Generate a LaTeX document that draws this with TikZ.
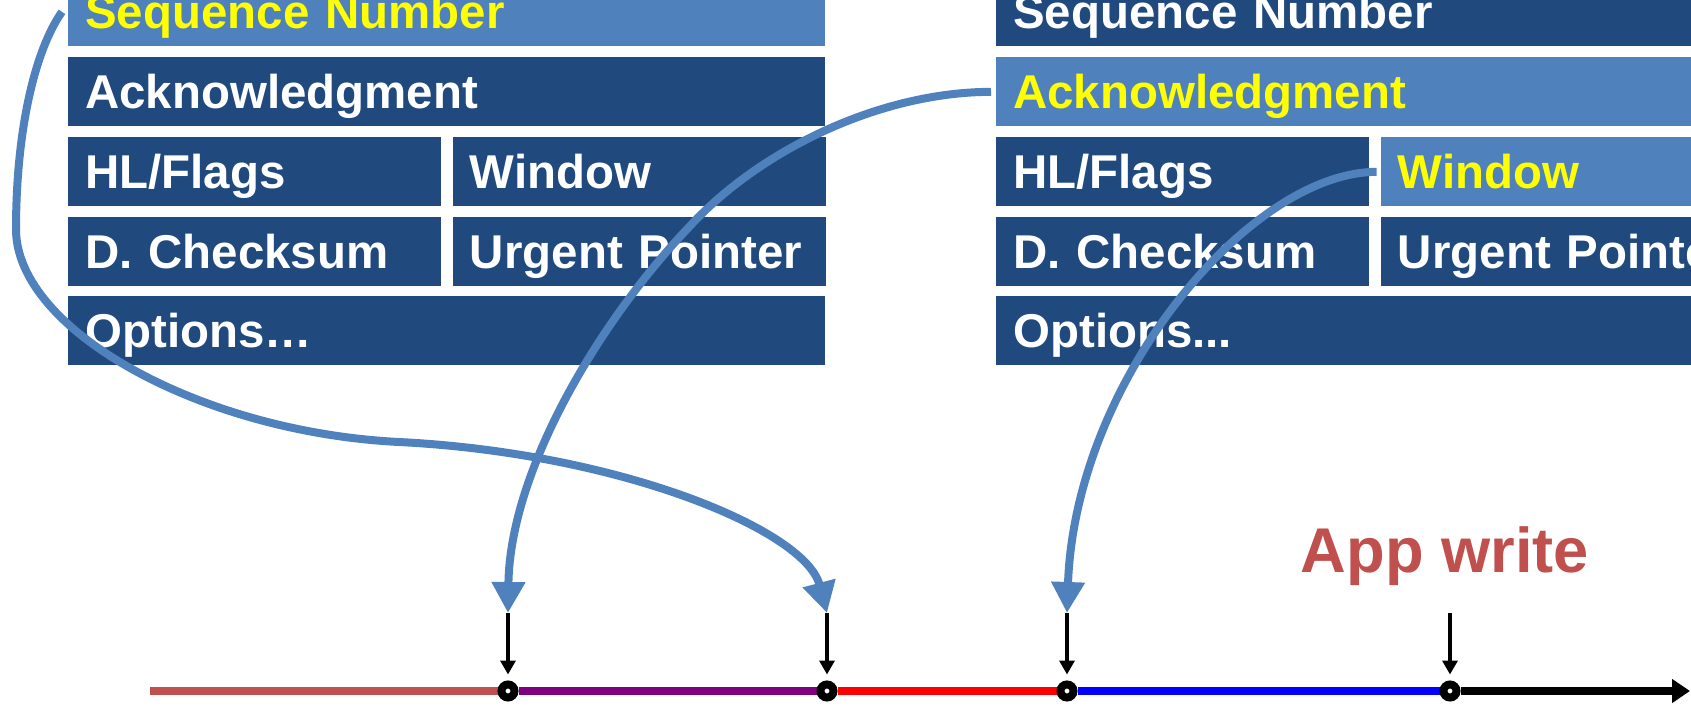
\documentclass[tikz,border=0pt]{standalone}
\usepackage{fontspec}
\setmainfont{Liberation Sans}
\usetikzlibrary{arrows.meta,positioning,backgrounds}
\definecolor{fielddark}{RGB}{32,73,125}
\definecolor{fieldlight}{RGB}{79,129,189}
\definecolor{hilite}{RGB}{255,255,0}
\definecolor{appred}{RGB}{192,80,77}
\definecolor{segpurple}{RGB}{128,0,128}

\begin{document}
\begin{tikzpicture}[x=0.02cm,y=-0.02cm,
  field/.style={rectangle,fill=fielddark,text=white,anchor=north west,inner xsep=0.34cm,inner ysep=0pt,
    minimum height=1.38cm,text height=0.68cm,text depth=0pt,align=left,
    font=\fontsize{27}{32}\selectfont\bfseries},
  wide/.style={field,text width=14.46cm},
  half/.style={field,text width=6.78cm},
  marked/.style={fill=fieldlight,text=hilite},
  jump/.style={draw=fieldlight,line width=0.16cm,-{Triangle[length=0.62cm,width=0.64cm]}},
  tick/.style={draw=black,line width=0.07cm,-{Triangle[length=0.28cm,width=0.3cm]},shorten >=0.12cm},
  dot/.style={circle,draw=black,fill=white,line width=0.16cm,inner sep=0pt,minimum size=0.26cm},
  axis/.style={line width=0.17cm}]
\useasboundingbox (0,0) rectangle (1691,707);
% sender side header
\begin{scope}
  \node[wide,marked] (lseq) at (68,-23) {Sequence Number};
  \node[wide] (lack) at (68,57) {Acknowledgment};
  \node[half] (lhl) at (68,137) {HL/Flags};
  \node[half,anchor=west] (lwin) [right=0.22cm of lhl] {Window};
  \node[half] (lchk) at (68,217) {D. Checksum};
  \node[half,anchor=west] (lurg) [right=0.22cm of lchk] {Urgent Pointer};
  \node[wide] (lopt) at (68,296) {Options…};
\end{scope}
% receiver side header
\begin{scope}[shift={(928,0)}]
  \node[wide] (rseq) at (68,-23) {Sequence Number};
  \node[wide,marked] (rack) at (68,57) {Acknowledgment};
  \node[half] (rhl) at (68,137) {HL/Flags};
  \node[half,marked,anchor=west] (rwin) [right=0.22cm of rhl] {Window};
  \node[half] (rchk) at (68,217) {D. Checksum};
  \node[half,anchor=west] (rurg) [right=0.22cm of rchk] {Urgent Pointer};
  \node[wide] (ropt) at (68,296) {Options...};
\end{scope}
% time line
\coordinate (t0) at (150,691);
\coordinate (tend) at (1690,691);
\foreach \i/\x in {1/508,2/827,3/1067,4/1450}{
  \node[dot] (d\i) at (\x,691) {};
  \coordinate (up\i) at (\x,613);
  \draw[tick] (up\i) -- (d\i);}
\begin{scope}[on background layer]
  \foreach \a/\b/\c in {t0/d1/appred,d1/d2/segpurple,d2/d3/red,d3/d4/blue}{
    \draw[axis,\c] (\a) -- (\b);}
  \draw[axis,-{Triangle[length=0.36cm,width=0.46cm]}] (d4) -- (tend);
\end{scope}
\node[anchor=base,text=appred,font=\fontsize{36}{40}\selectfont\bfseries] (write) at (1445,572) {App write};
% header fields onto the time line
\draw[jump] ([xshift=-0.12cm]lseq.west) .. controls (35,50) and (16,130) .. (16,230)
  .. controls (17,330) and (200,432) .. (399,442)
  .. controls (620,453) and (805,530) .. (up2);
\draw[jump] ([xshift=-0.1cm]rack.west) .. controls (880,92) and (760,150) .. (690,226)
  .. controls (600,320) and (510,470) .. (up1);
\draw[jump] ([xshift=-0.08cm]rwin.west) .. controls (1250,172) and (1075,380) .. (up3);
\end{tikzpicture}
\end{document}
